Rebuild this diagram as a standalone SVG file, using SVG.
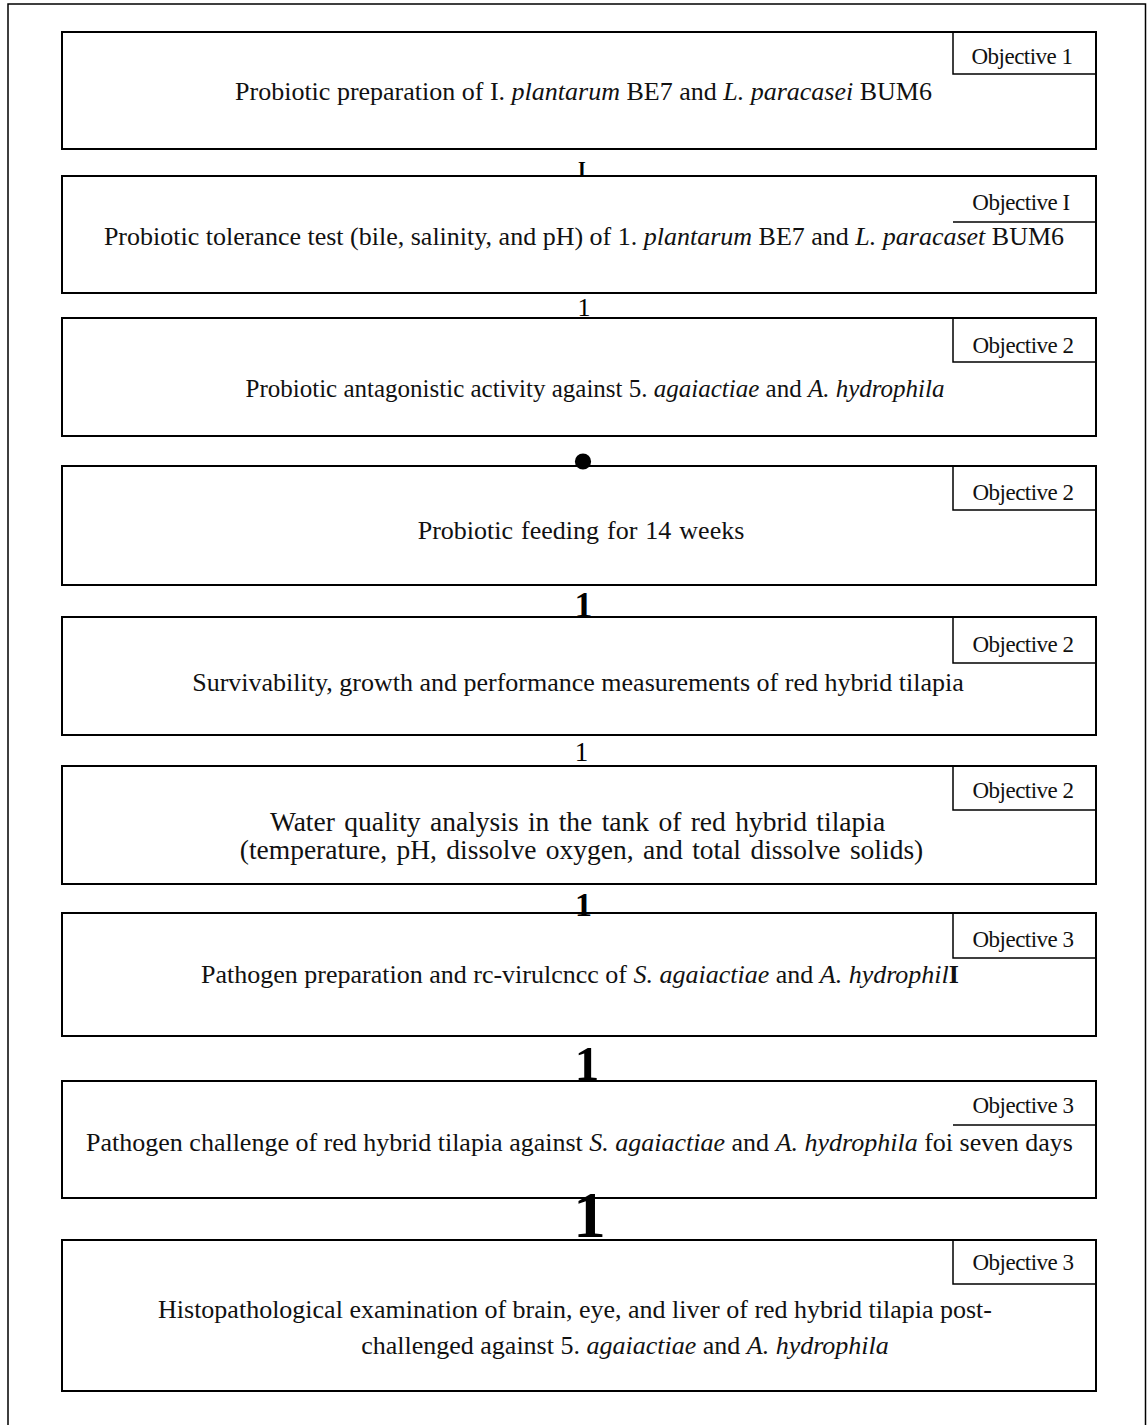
<svg xmlns="http://www.w3.org/2000/svg" width="1147" height="1425" viewBox="0 0 1147 1425">
<style>
.frame{fill:none;stroke:#000;stroke-width:1.5}
.box{fill:none;stroke:#000;stroke-width:2}
.lab{fill:none;stroke:#000;stroke-width:1.5}
.t{font-family:"Liberation Serif","Times New Roman",serif;font-size:26px;fill:#111;text-anchor:middle}
.o{font-family:"Liberation Serif","Times New Roman",serif;font-size:23px;fill:#111;text-anchor:middle;letter-spacing:-0.5px}
.c{font-family:"Liberation Serif","Times New Roman",serif;fill:#000;text-anchor:middle}
.i{font-style:italic}
.b{font-weight:bold}
</style>
<rect width="1147" height="1425" fill="#fff"/>
<path class="frame" d="M8,1425 V4 H1145.5 V1425"/>

<g id="node1">
<rect class="box" x="62" y="32" width="1034" height="117"/>
<path class="lab" d="M953,32 V74 H1096"/>
<text class="o" x="1022" y="64">Objective 1</text>
<text class="t" x="583.5" y="100">Probiotic preparation of I. <tspan class="i">plantarum</tspan> BE7 and <tspan class="i">L. paracasei</tspan> BUM6</text>
</g>

<g id="node2">
<rect class="box" x="62" y="176" width="1034" height="117"/>
<path class="lab" d="M953,222 H1096"/>
<text class="o" x="1021" y="210">Objective I</text>
<text class="t" x="584" y="245">Probiotic tolerance test (bile, salinity, and pH) of 1. <tspan class="i">plantarum</tspan> BE7 and <tspan class="i">L. paracaset</tspan> BUM6</text>
</g>

<g id="node3">
<rect class="box" x="62" y="318" width="1034" height="118"/>
<path class="lab" d="M953,318 V362 H1096"/>
<text class="o" x="1023" y="353">Objective 2</text>
<text class="t" x="595" y="397" style="font-size:25px">Probiotic antagonistic activity against 5. <tspan class="i">agaiactiae</tspan> and <tspan class="i">A. hydrophila</tspan></text>
</g>

<g id="node4">
<rect class="box" x="62" y="466" width="1034" height="119"/>
<path class="lab" d="M953,466 V510 H1096"/>
<text class="o" x="1023" y="500">Objective 2</text>
<text class="t" x="581" y="539" word-spacing="1.5">Probiotic feeding for 14 weeks</text>
</g>

<g id="node5">
<rect class="box" x="62" y="617" width="1034" height="118"/>
<path class="lab" d="M953,617 V663 H1096"/>
<text class="o" x="1023" y="652">Objective 2</text>
<text class="t" x="578" y="691">Survivability, growth and performance measurements of red hybrid tilapia</text>
</g>

<g id="node6">
<rect class="box" x="62" y="766" width="1034" height="118"/>
<path class="lab" d="M953,766 V810 H1096"/>
<text class="o" x="1023" y="798">Objective 2</text>
<text class="t" x="577.5" y="831" style="font-size:27.5px" word-spacing="2.5">Water quality analysis in the tank of red hybrid tilapia</text>
<text class="t" x="581.5" y="859" style="font-size:27.5px" word-spacing="2.5">(temperature, pH, dissolve oxygen, and total dissolve solids)</text>
</g>

<g id="node7">
<rect class="box" x="62" y="913" width="1034" height="123"/>
<path class="lab" d="M953,913 V958 H1096"/>
<text class="o" x="1023" y="947">Objective 3</text>
<text class="t" x="580" y="983">Pathogen preparation and rc-virulcncc of <tspan class="i">S. agaiactiae</tspan> and <tspan class="i">A. hydrophil</tspan><tspan class="b">I</tspan></text>
</g>

<g id="node8">
<rect class="box" x="62" y="1081" width="1034" height="117"/>
<path class="lab" d="M953,1125 H1096"/>
<text class="o" x="1023" y="1113">Objective 3</text>
<text class="t" x="579.5" y="1151">Pathogen challenge of red hybrid tilapia against <tspan class="i">S. agaiactiae</tspan> and <tspan class="i">A. hydrophila</tspan> foi seven days</text>
</g>

<g id="node9">
<rect class="box" x="62" y="1240" width="1034" height="151"/>
<path class="lab" d="M953,1240 V1284 H1096"/>
<text class="o" x="1023" y="1270">Objective 3</text>
<text class="t" x="575" y="1318">Histopathological examination of brain, eye, and liver of red hybrid tilapia post-</text>
<text class="t" x="625" y="1354">challenged against 5. <tspan class="i">agaiactiae</tspan> and <tspan class="i">A. hydrophila</tspan></text>
</g>

<g id="connectors">
<text class="c b" x="582" y="176" font-size="20">I</text>
<text class="c" x="584" y="316" font-size="26">1</text>
<text class="c b" x="583" y="481" font-size="60">•</text>
<text class="c b" x="583.5" y="617" font-size="36">1</text>
<text class="c" x="581.5" y="761" font-size="27">1</text>
<text class="c b" x="583.5" y="916" font-size="34">1</text>
<text class="c b" x="587" y="1080" font-size="49">1</text>
<text class="c b" x="589.5" y="1237" font-size="65">1</text>
</g>
</svg>
